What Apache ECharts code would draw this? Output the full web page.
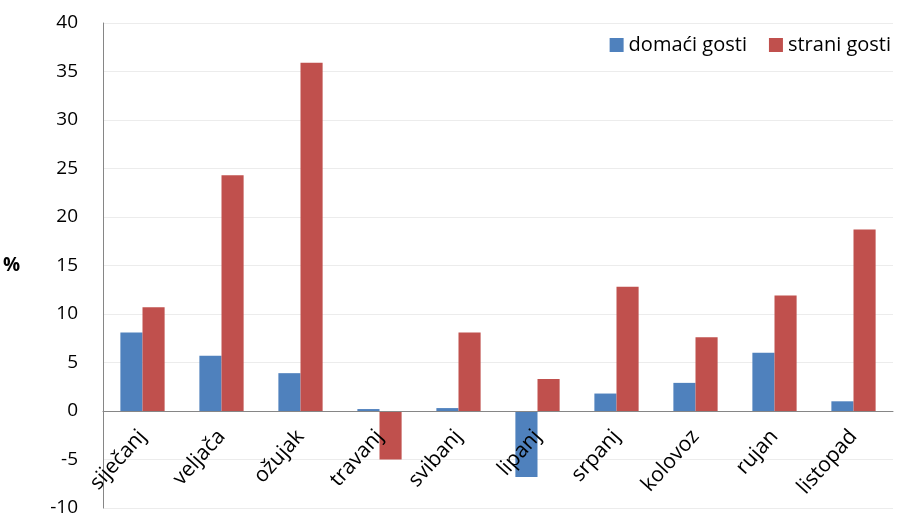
<!DOCTYPE html>
<html>
<head>
<meta charset="utf-8">
<script src="https://cdn.jsdelivr.net/npm/echarts@6/dist/echarts.min.js"></script>
<style>
  html, body { margin: 0; padding: 0; background: #fff; }
  #chart { width: 900px; height: 516px; }
</style>
</head>
<body>
<div id="chart"></div>
<script>
// mjeseci i promjene (%)
const months = ['siječanj', 'veljača', 'ožujak', 'travanj', 'svibanj', 'lipanj', 'srpanj', 'kolovoz', 'rujan', 'listopad'];
const domestic = [8.1, 5.7, 3.9, 0.2, 0.3, -6.8, 1.8, 2.9, 6.0, 1.0];
const foreign = [10.7, 24.3, 35.9, -5.0, 8.1, 3.3, 12.8, 7.6, 11.9, 18.7];
const yMin = -10, yMax = 40, yStep = 5;

const font = 'Open Sans';
const gridTop = 23, gridBottom = 8, chartH = 516;
// kategorijska os na nuli (oznake prate liniju)
const zeroOffset = -(chartH - gridTop - gridBottom) * (0 - yMin) / (yMax - yMin);

let myChart = echarts.init(document.getElementById('chart'));
let option = {
    animation: false,
    textStyle: { fontFamily: font },
    grid: {
        left: 103,
        right: 7,
        top: gridTop,
        bottom: gridBottom,
        containLabel: false,
        outerBoundsMode: 'none'
    },
    legend: {
        top: 30,
        right: 4,
        itemWidth: 14,
        itemHeight: 14,
        itemGap: 22,
        textStyle: { fontFamily: font, fontSize: 20, color: '#000' },
        data: [
            { name: 'domaći gosti', icon: 'rect' },
            { name: 'strani gosti', icon: 'rect' }
        ]
    },
    xAxis: {
        type: 'category',
        data: months,
        offset: zeroOffset,
        z: 5,
        axisTick: { show: false },
        axisLine: { onZero: false, lineStyle: { color: '#868686', width: 1 } },
        axisLabel: {
            rotate: 48,
            interval: 0,
            margin: 22,
            fontSize: 21,
            color: '#000',
            fontFamily: font
        }
    },
    yAxis: {
        type: 'value',
        min: yMin,
        max: yMax,
        interval: yStep,
        name: '%',
        nameLocation: 'middle',
        nameRotate: 0,
        nameGap: 83,
        nameTextStyle: { fontSize: 19, fontWeight: 'bold', color: '#000', fontFamily: font },
        axisLine: { show: true, lineStyle: { color: '#868686', width: 1 } },
        axisTick: { show: false },
        axisLabel: { fontSize: 19, color: '#000', margin: 25, fontFamily: font },
        splitLine: { lineStyle: { color: '#ececec', width: 1 } }
    },
    series: [
        {
            name: 'domaći gosti',
            type: 'bar',
            data: domestic,
            barGap: '0%',
            barCategoryGap: '44%',
            itemStyle: { color: '#4f81bd' }
        },
        {
            name: 'strani gosti',
            type: 'bar',
            data: foreign,
            barGap: '0%',
            barCategoryGap: '44%',
            itemStyle: { color: '#c0504d' }
        }
    ]
};
myChart.setOption(option);
</script>
</body>
</html>
